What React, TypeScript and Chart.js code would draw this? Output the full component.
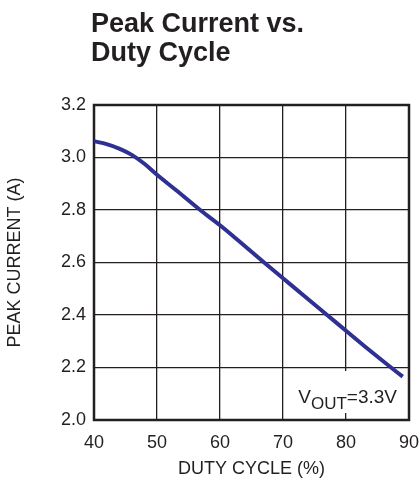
import React, { useEffect, useRef } from "react";
import { Chart, registerables } from "chart.js";

Chart.register(...registerables);

const titleLines = ["Peak Current vs.", "Duty Cycle"];
const xAxisTitle = "DUTY CYCLE (%)";
const yAxisTitle = "PEAK CURRENT (A)";
const dutyCycle = [40, 42, 44, 46, 48, 50, 53, 57, 60, 63, 67, 70, 73, 77, 80, 83, 86, 89];
const peakCurrent = [3.062, 3.051, 3.034, 3.01, 2.976, 2.934, 2.876, 2.797, 2.742, 2.682, 2.6, 2.54, 2.48, 2.4, 2.34, 2.28, 2.222, 2.165];
const xTicks = { min: 40, max: 90, step: 10 };
const yTicks = { min: 2.0, max: 3.2, step: 0.2 };
const noteMain = "V";
const noteSub = "OUT";
const noteRest = "=3.3V";

const FONT = "'Liberation Sans', Arial, Helvetica, sans-serif";
const INK = "#231f20";
const LINE = "#2e3192";

function noteMetrics(chart: any) {
  const { ctx, chartArea } = chart;
  ctx.save();
  ctx.font = `19px ${FONT}`;
  const wMain = ctx.measureText(noteMain).width;
  const wRest = ctx.measureText(noteRest).width;
  ctx.font = `17px ${FONT}`;
  const wSub = ctx.measureText(noteSub).width;
  ctx.restore();
  const total = wMain + wSub + wRest;
  const right = chartArea.right - 12;
  const base = chartArea.bottom - 17;
  return { wMain, wSub, wRest, total, left: right - total, base };
}

const decorPlugin = {
  id: "decor",
  beforeDatasetsDraw(chart: any) {
    const { ctx, chartArea } = chart;
    const m = noteMetrics(chart);
    ctx.save();
    ctx.fillStyle = "#ffffff";
    ctx.fillRect(m.left - 4, chartArea.bottom - 49, m.total + 8, 42);
    ctx.strokeStyle = INK;
    ctx.lineWidth = 2.5;
    ctx.strokeRect(chartArea.left, chartArea.top, chartArea.right - chartArea.left, chartArea.bottom - chartArea.top);
    ctx.restore();
  },
  afterDatasetsDraw(chart: any) {
    const { ctx, chartArea } = chart;
    ctx.save();
    ctx.fillStyle = INK;
    ctx.font = `bold 27px ${FONT}`;
    ctx.textAlign = "left";
    ctx.textBaseline = "alphabetic";
    ctx.fillText(titleLines[0], chartArea.left - 3, 32);
    ctx.fillText(titleLines[1], chartArea.left - 3, 61);
    const m = noteMetrics(chart);
    ctx.font = `19px ${FONT}`;
    ctx.fillText(noteMain, m.left, m.base);
    ctx.font = `17px ${FONT}`;
    ctx.fillText(noteSub, m.left + m.wMain, m.base + 6);
    ctx.font = `19px ${FONT}`;
    ctx.fillText(noteRest, m.left + m.wMain + m.wSub, m.base);
    ctx.restore();
  },
};

export default function App() {
  const ref = useRef<HTMLCanvasElement | null>(null);
  useEffect(() => {
    if (!ref.current) return;
    const points = dutyCycle.map((x, i) => ({ x, y: peakCurrent[i] }));
    const chart = new Chart(ref.current, {
      type: "line",
      data: {
        datasets: [
          {
            data: points,
            borderColor: LINE,
            borderWidth: 4,
            pointRadius: 0,
            cubicInterpolationMode: "monotone",
            fill: false,
          },
        ],
      },
      options: {
        responsive: false,
        animation: false,
        events: [],
        layout: { padding: { top: 105, right: 0, left: 0, bottom: 0 } },
        plugins: { legend: { display: false }, tooltip: { enabled: false }, title: { display: false } },
        scales: {
          x: {
            type: "linear",
            min: xTicks.min,
            max: xTicks.max,
            afterFit: (s: any) => {
              s.height = 61;
              s.paddingLeft = 0;
              s.paddingRight = 11;
            },
            border: { display: false },
            grid: { color: INK, lineWidth: 1.3, drawTicks: false },
            ticks: { stepSize: xTicks.step, color: INK, padding: 12, font: { family: FONT, size: 18 } },
            title: { display: true, text: xAxisTitle, color: INK, padding: { top: 0, bottom: 1 }, font: { family: FONT, size: 18 } },
          },
          y: {
            type: "linear",
            min: yTicks.min,
            max: yTicks.max,
            afterFit: (s: any) => {
              s.width = 94;
              s.paddingTop = 0;
              s.paddingBottom = 0;
            },
            border: { display: false },
            grid: { color: INK, lineWidth: 1.3, drawTicks: false },
            ticks: {
              stepSize: yTicks.step,
              color: INK,
              padding: 8,
              font: { family: FONT, size: 18 },
              callback: (v: any) => Number(v).toFixed(1),
            },
            title: { display: true, text: yAxisTitle, color: INK, padding: { top: 4, bottom: 0 }, font: { family: FONT, size: 18 } },
          },
        },
      },
      plugins: [decorPlugin],
    } as any);
    return () => chart.destroy();
  }, []);
  return (
    <div style={{ position: "fixed", left: 0, top: 0, width: 420, height: 481, background: "#fff" }}>
      <canvas ref={ref} width={420} height={481} style={{ display: "block" }} />
    </div>
  );
}
